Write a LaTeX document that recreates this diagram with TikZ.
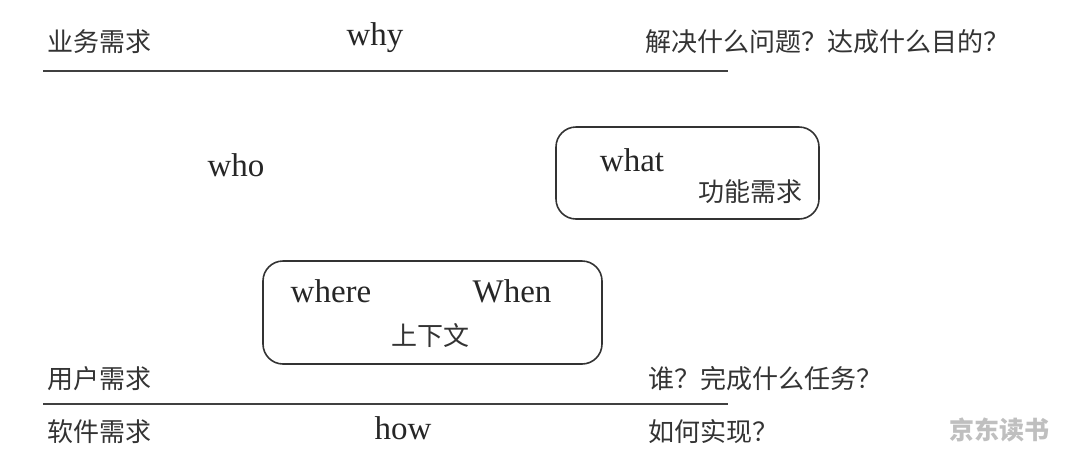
\documentclass[tikz,border=0pt]{standalone}
\usepackage{fontspec}
\setmainfont{Liberation Serif}
\newfontfamily\cjk{Noto Sans CJK SC}[Scale=1]
\begin{document}
\begin{tikzpicture}[x=1pt,y=-1pt,
  en/.style={font=\fontsize{33}{36}\selectfont, text=black!85, inner sep=0pt},
  zh/.style={font=\cjk\fontsize{26}{30}\selectfont, text=black!80, inner sep=0pt},
  rbox/.style={draw=black!80, line width=1.6pt, rounded corners=20pt},
  hline/.style={draw=black!75, line width=2pt}]
\useasboundingbox (0,0) rectangle (1080,467);
% lines
\coordinate (t1) at (43,71);
\coordinate (t2) at (728,71);
\coordinate (b1) at (43,404);
\coordinate (b2) at (728,404);
\draw[hline] (t1) -- (t2);
\draw[hline] (b1) -- (b2);
% boxes
\node[rbox, minimum width=263pt, minimum height=92pt] (whatbox) at (687.5,173) {};
\node[rbox, minimum width=339pt, minimum height=103pt] (ctxbox) at (432.5,312.5) {};
% texts
\node[zh, anchor=west] (biz) at (47,42) {业务需求};
\node[en] (why) at (375,38) {why};
\node[zh, anchor=west] (bizq) at (645,42) {解决什么问题？达成什么目的？};
\node[en] (who) at (236,165) {who};
\node[en] (what) at (632,160) {what};
\node[zh] (func) at (750,192) {功能需求};
\node[en] (where) at (331,291) {where};
\node[en] (when) at (512,291) {When};
\node[zh] (ctx) at (430,336) {上下文};
\node[zh, anchor=west] (user) at (47,379) {用户需求};
\node[zh, anchor=west] (userq) at (648,379) {谁？完成什么任务？};
\node[zh, anchor=west] (soft) at (47,432) {软件需求};
\node[en] (how) at (403,428) {how};
\node[zh, anchor=west] (softq) at (648,432) {如何实现？};
\node[zh, text=black!25, font=\cjk\bfseries\fontsize{25}{28}\selectfont] (wm) at (999,430) {京东读书};
\end{tikzpicture}
\end{document}
